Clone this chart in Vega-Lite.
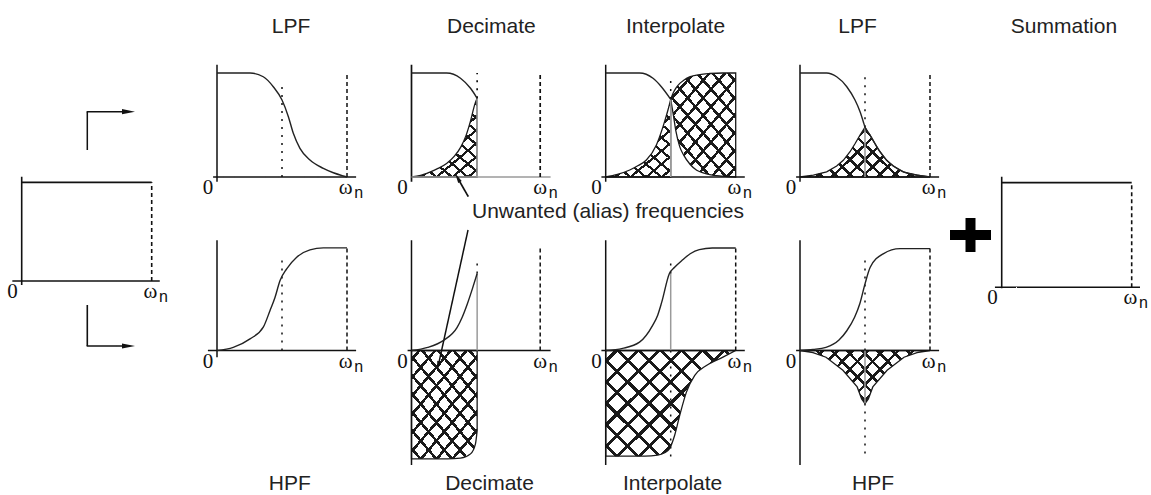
{
  "$schema": "https://vega.github.io/schema/vega-lite/v6.json",
  "padding": 0,
  "background": "white",
  "columns": 6,
  "spacing": 0,
  "bounds": "flush",
  "resolve": {"scale": {"x": "independent", "y": "independent"}},
  "config": {
    "view": {"stroke": null},
    "style": {
      "g1a": {"color": {"gradient": "linear", "x1": 0, "y1": 0, "x2": 0.8, "y2": 1.13, "stops": [
        {"offset": 0, "color": "transparent"},
        {"offset": 0.039, "color": "transparent"}, {"offset": 0.039, "color": "#1a1a1a"}, {"offset": 0.061, "color": "#1a1a1a"}, {"offset": 0.061, "color": "transparent"},
        {"offset": 0.139, "color": "transparent"}, {"offset": 0.139, "color": "#1a1a1a"}, {"offset": 0.161, "color": "#1a1a1a"}, {"offset": 0.161, "color": "transparent"},
        {"offset": 0.239, "color": "transparent"}, {"offset": 0.239, "color": "#1a1a1a"}, {"offset": 0.261, "color": "#1a1a1a"}, {"offset": 0.261, "color": "transparent"},
        {"offset": 0.339, "color": "transparent"}, {"offset": 0.339, "color": "#1a1a1a"}, {"offset": 0.361, "color": "#1a1a1a"}, {"offset": 0.361, "color": "transparent"},
        {"offset": 0.439, "color": "transparent"}, {"offset": 0.439, "color": "#1a1a1a"}, {"offset": 0.461, "color": "#1a1a1a"}, {"offset": 0.461, "color": "transparent"},
        {"offset": 0.539, "color": "transparent"}, {"offset": 0.539, "color": "#1a1a1a"}, {"offset": 0.561, "color": "#1a1a1a"}, {"offset": 0.561, "color": "transparent"},
        {"offset": 0.639, "color": "transparent"}, {"offset": 0.639, "color": "#1a1a1a"}, {"offset": 0.661, "color": "#1a1a1a"}, {"offset": 0.661, "color": "transparent"},
        {"offset": 0.739, "color": "transparent"}, {"offset": 0.739, "color": "#1a1a1a"}, {"offset": 0.761, "color": "#1a1a1a"}, {"offset": 0.761, "color": "transparent"},
        {"offset": 0.839, "color": "transparent"}, {"offset": 0.839, "color": "#1a1a1a"}, {"offset": 0.861, "color": "#1a1a1a"}, {"offset": 0.861, "color": "transparent"},
        {"offset": 0.939, "color": "transparent"}, {"offset": 0.939, "color": "#1a1a1a"}, {"offset": 0.961, "color": "#1a1a1a"}, {"offset": 0.961, "color": "transparent"},
        {"offset": 1, "color": "transparent"}]}},
      "g1b": {"color": {"gradient": "linear", "x1": 1, "y1": 0, "x2": 0.2, "y2": 1.13, "stops": [
        {"offset": 0, "color": "transparent"},
        {"offset": 0.039, "color": "transparent"}, {"offset": 0.039, "color": "#1a1a1a"}, {"offset": 0.061, "color": "#1a1a1a"}, {"offset": 0.061, "color": "transparent"},
        {"offset": 0.139, "color": "transparent"}, {"offset": 0.139, "color": "#1a1a1a"}, {"offset": 0.161, "color": "#1a1a1a"}, {"offset": 0.161, "color": "transparent"},
        {"offset": 0.239, "color": "transparent"}, {"offset": 0.239, "color": "#1a1a1a"}, {"offset": 0.261, "color": "#1a1a1a"}, {"offset": 0.261, "color": "transparent"},
        {"offset": 0.339, "color": "transparent"}, {"offset": 0.339, "color": "#1a1a1a"}, {"offset": 0.361, "color": "#1a1a1a"}, {"offset": 0.361, "color": "transparent"},
        {"offset": 0.439, "color": "transparent"}, {"offset": 0.439, "color": "#1a1a1a"}, {"offset": 0.461, "color": "#1a1a1a"}, {"offset": 0.461, "color": "transparent"},
        {"offset": 0.539, "color": "transparent"}, {"offset": 0.539, "color": "#1a1a1a"}, {"offset": 0.561, "color": "#1a1a1a"}, {"offset": 0.561, "color": "transparent"},
        {"offset": 0.639, "color": "transparent"}, {"offset": 0.639, "color": "#1a1a1a"}, {"offset": 0.661, "color": "#1a1a1a"}, {"offset": 0.661, "color": "transparent"},
        {"offset": 0.739, "color": "transparent"}, {"offset": 0.739, "color": "#1a1a1a"}, {"offset": 0.761, "color": "#1a1a1a"}, {"offset": 0.761, "color": "transparent"},
        {"offset": 0.839, "color": "transparent"}, {"offset": 0.839, "color": "#1a1a1a"}, {"offset": 0.861, "color": "#1a1a1a"}, {"offset": 0.861, "color": "transparent"},
        {"offset": 0.939, "color": "transparent"}, {"offset": 0.939, "color": "#1a1a1a"}, {"offset": 0.961, "color": "#1a1a1a"}, {"offset": 0.961, "color": "transparent"},
        {"offset": 1, "color": "transparent"}]}},
      "g2a": {"color": {"gradient": "linear", "x1": 0, "y1": 0, "x2": 1.09, "y2": 0.889, "stops": [
        {"offset": 0, "color": "transparent"},
        {"offset": 0.0365, "color": "transparent"}, {"offset": 0.0365, "color": "#1a1a1a"}, {"offset": 0.0545, "color": "#1a1a1a"}, {"offset": 0.0545, "color": "transparent"},
        {"offset": 0.1274, "color": "transparent"}, {"offset": 0.1274, "color": "#1a1a1a"}, {"offset": 0.1454, "color": "#1a1a1a"}, {"offset": 0.1454, "color": "transparent"},
        {"offset": 0.2183, "color": "transparent"}, {"offset": 0.2183, "color": "#1a1a1a"}, {"offset": 0.2363, "color": "#1a1a1a"}, {"offset": 0.2363, "color": "transparent"},
        {"offset": 0.3092, "color": "transparent"}, {"offset": 0.3092, "color": "#1a1a1a"}, {"offset": 0.3272, "color": "#1a1a1a"}, {"offset": 0.3272, "color": "transparent"},
        {"offset": 0.4001, "color": "transparent"}, {"offset": 0.4001, "color": "#1a1a1a"}, {"offset": 0.4181, "color": "#1a1a1a"}, {"offset": 0.4181, "color": "transparent"},
        {"offset": 0.491, "color": "transparent"}, {"offset": 0.491, "color": "#1a1a1a"}, {"offset": 0.509, "color": "#1a1a1a"}, {"offset": 0.509, "color": "transparent"},
        {"offset": 0.5819, "color": "transparent"}, {"offset": 0.5819, "color": "#1a1a1a"}, {"offset": 0.5999, "color": "#1a1a1a"}, {"offset": 0.5999, "color": "transparent"},
        {"offset": 0.6728, "color": "transparent"}, {"offset": 0.6728, "color": "#1a1a1a"}, {"offset": 0.6908, "color": "#1a1a1a"}, {"offset": 0.6908, "color": "transparent"},
        {"offset": 0.7637, "color": "transparent"}, {"offset": 0.7637, "color": "#1a1a1a"}, {"offset": 0.7817, "color": "#1a1a1a"}, {"offset": 0.7817, "color": "transparent"},
        {"offset": 0.8546, "color": "transparent"}, {"offset": 0.8546, "color": "#1a1a1a"}, {"offset": 0.8726, "color": "#1a1a1a"}, {"offset": 0.8726, "color": "transparent"},
        {"offset": 0.9456, "color": "transparent"}, {"offset": 0.9456, "color": "#1a1a1a"}, {"offset": 0.9636, "color": "#1a1a1a"}, {"offset": 0.9636, "color": "transparent"},
        {"offset": 1, "color": "transparent"}]}},
      "g2b": {"color": {"gradient": "linear", "x1": 1, "y1": 0, "x2": -0.09, "y2": 0.889, "stops": [
        {"offset": 0, "color": "transparent"},
        {"offset": 0.0365, "color": "transparent"}, {"offset": 0.0365, "color": "#1a1a1a"}, {"offset": 0.0545, "color": "#1a1a1a"}, {"offset": 0.0545, "color": "transparent"},
        {"offset": 0.1274, "color": "transparent"}, {"offset": 0.1274, "color": "#1a1a1a"}, {"offset": 0.1454, "color": "#1a1a1a"}, {"offset": 0.1454, "color": "transparent"},
        {"offset": 0.2183, "color": "transparent"}, {"offset": 0.2183, "color": "#1a1a1a"}, {"offset": 0.2363, "color": "#1a1a1a"}, {"offset": 0.2363, "color": "transparent"},
        {"offset": 0.3092, "color": "transparent"}, {"offset": 0.3092, "color": "#1a1a1a"}, {"offset": 0.3272, "color": "#1a1a1a"}, {"offset": 0.3272, "color": "transparent"},
        {"offset": 0.4001, "color": "transparent"}, {"offset": 0.4001, "color": "#1a1a1a"}, {"offset": 0.4181, "color": "#1a1a1a"}, {"offset": 0.4181, "color": "transparent"},
        {"offset": 0.491, "color": "transparent"}, {"offset": 0.491, "color": "#1a1a1a"}, {"offset": 0.509, "color": "#1a1a1a"}, {"offset": 0.509, "color": "transparent"},
        {"offset": 0.5819, "color": "transparent"}, {"offset": 0.5819, "color": "#1a1a1a"}, {"offset": 0.5999, "color": "#1a1a1a"}, {"offset": 0.5999, "color": "transparent"},
        {"offset": 0.6728, "color": "transparent"}, {"offset": 0.6728, "color": "#1a1a1a"}, {"offset": 0.6908, "color": "#1a1a1a"}, {"offset": 0.6908, "color": "transparent"},
        {"offset": 0.7637, "color": "transparent"}, {"offset": 0.7637, "color": "#1a1a1a"}, {"offset": 0.7817, "color": "#1a1a1a"}, {"offset": 0.7817, "color": "transparent"},
        {"offset": 0.8546, "color": "transparent"}, {"offset": 0.8546, "color": "#1a1a1a"}, {"offset": 0.8726, "color": "#1a1a1a"}, {"offset": 0.8726, "color": "transparent"},
        {"offset": 0.9456, "color": "transparent"}, {"offset": 0.9456, "color": "#1a1a1a"}, {"offset": 0.9636, "color": "#1a1a1a"}, {"offset": 0.9636, "color": "transparent"},
        {"offset": 1, "color": "transparent"}]}},
      "g3a": {"color": {"gradient": "linear", "x1": 0, "y1": 0, "x2": 1.207, "y2": 0.478, "stops": [
        {"offset": 0, "color": "transparent"},
        {"offset": 0.0317, "color": "transparent"}, {"offset": 0.0317, "color": "#1a1a1a"}, {"offset": 0.0517, "color": "#1a1a1a"}, {"offset": 0.0517, "color": "transparent"},
        {"offset": 0.115, "color": "transparent"}, {"offset": 0.115, "color": "#1a1a1a"}, {"offset": 0.135, "color": "#1a1a1a"}, {"offset": 0.135, "color": "transparent"},
        {"offset": 0.1983, "color": "transparent"}, {"offset": 0.1983, "color": "#1a1a1a"}, {"offset": 0.2183, "color": "#1a1a1a"}, {"offset": 0.2183, "color": "transparent"},
        {"offset": 0.2817, "color": "transparent"}, {"offset": 0.2817, "color": "#1a1a1a"}, {"offset": 0.3017, "color": "#1a1a1a"}, {"offset": 0.3017, "color": "transparent"},
        {"offset": 0.365, "color": "transparent"}, {"offset": 0.365, "color": "#1a1a1a"}, {"offset": 0.385, "color": "#1a1a1a"}, {"offset": 0.385, "color": "transparent"},
        {"offset": 0.4483, "color": "transparent"}, {"offset": 0.4483, "color": "#1a1a1a"}, {"offset": 0.4683, "color": "#1a1a1a"}, {"offset": 0.4683, "color": "transparent"},
        {"offset": 0.5317, "color": "transparent"}, {"offset": 0.5317, "color": "#1a1a1a"}, {"offset": 0.5517, "color": "#1a1a1a"}, {"offset": 0.5517, "color": "transparent"},
        {"offset": 0.615, "color": "transparent"}, {"offset": 0.615, "color": "#1a1a1a"}, {"offset": 0.635, "color": "#1a1a1a"}, {"offset": 0.635, "color": "transparent"},
        {"offset": 0.6983, "color": "transparent"}, {"offset": 0.6983, "color": "#1a1a1a"}, {"offset": 0.7183, "color": "#1a1a1a"}, {"offset": 0.7183, "color": "transparent"},
        {"offset": 0.7817, "color": "transparent"}, {"offset": 0.7817, "color": "#1a1a1a"}, {"offset": 0.8017, "color": "#1a1a1a"}, {"offset": 0.8017, "color": "transparent"},
        {"offset": 0.865, "color": "transparent"}, {"offset": 0.865, "color": "#1a1a1a"}, {"offset": 0.885, "color": "#1a1a1a"}, {"offset": 0.885, "color": "transparent"},
        {"offset": 0.9483, "color": "transparent"}, {"offset": 0.9483, "color": "#1a1a1a"}, {"offset": 0.9683, "color": "#1a1a1a"}, {"offset": 0.9683, "color": "transparent"},
        {"offset": 1, "color": "transparent"}]}},
      "g3b": {"color": {"gradient": "linear", "x1": 1, "y1": 0, "x2": -0.207, "y2": 0.478, "stops": [
        {"offset": 0, "color": "transparent"},
        {"offset": 0.0317, "color": "transparent"}, {"offset": 0.0317, "color": "#1a1a1a"}, {"offset": 0.0517, "color": "#1a1a1a"}, {"offset": 0.0517, "color": "transparent"},
        {"offset": 0.115, "color": "transparent"}, {"offset": 0.115, "color": "#1a1a1a"}, {"offset": 0.135, "color": "#1a1a1a"}, {"offset": 0.135, "color": "transparent"},
        {"offset": 0.1983, "color": "transparent"}, {"offset": 0.1983, "color": "#1a1a1a"}, {"offset": 0.2183, "color": "#1a1a1a"}, {"offset": 0.2183, "color": "transparent"},
        {"offset": 0.2817, "color": "transparent"}, {"offset": 0.2817, "color": "#1a1a1a"}, {"offset": 0.3017, "color": "#1a1a1a"}, {"offset": 0.3017, "color": "transparent"},
        {"offset": 0.365, "color": "transparent"}, {"offset": 0.365, "color": "#1a1a1a"}, {"offset": 0.385, "color": "#1a1a1a"}, {"offset": 0.385, "color": "transparent"},
        {"offset": 0.4483, "color": "transparent"}, {"offset": 0.4483, "color": "#1a1a1a"}, {"offset": 0.4683, "color": "#1a1a1a"}, {"offset": 0.4683, "color": "transparent"},
        {"offset": 0.5317, "color": "transparent"}, {"offset": 0.5317, "color": "#1a1a1a"}, {"offset": 0.5517, "color": "#1a1a1a"}, {"offset": 0.5517, "color": "transparent"},
        {"offset": 0.615, "color": "transparent"}, {"offset": 0.615, "color": "#1a1a1a"}, {"offset": 0.635, "color": "#1a1a1a"}, {"offset": 0.635, "color": "transparent"},
        {"offset": 0.6983, "color": "transparent"}, {"offset": 0.6983, "color": "#1a1a1a"}, {"offset": 0.7183, "color": "#1a1a1a"}, {"offset": 0.7183, "color": "transparent"},
        {"offset": 0.7817, "color": "transparent"}, {"offset": 0.7817, "color": "#1a1a1a"}, {"offset": 0.8017, "color": "#1a1a1a"}, {"offset": 0.8017, "color": "transparent"},
        {"offset": 0.865, "color": "transparent"}, {"offset": 0.865, "color": "#1a1a1a"}, {"offset": 0.885, "color": "#1a1a1a"}, {"offset": 0.885, "color": "transparent"},
        {"offset": 0.9483, "color": "transparent"}, {"offset": 0.9483, "color": "#1a1a1a"}, {"offset": 0.9683, "color": "#1a1a1a"}, {"offset": 0.9683, "color": "transparent"},
        {"offset": 1, "color": "transparent"}]}}
    }
  },
  "datasets": {
    "ticks": [{"lab": "0", "x": -0.07, "y": 0}, {"lab": "ω", "x": 0.99, "y": 0}],
    "sub": [{"lab": "n", "x": 1.09, "y": 0}],
    "h2t": [
      {"part": "a", "x": 0, "y": 0, "y2": 0}, {"part": "a", "x": 0.07, "y": 0.015, "y2": 0},
      {"part": "a", "x": 0.146, "y": 0.05, "y2": 0}, {"part": "a", "x": 0.2, "y": 0.08, "y2": 0},
      {"part": "a", "x": 0.27, "y": 0.13, "y2": 0}, {"part": "a", "x": 0.33, "y": 0.2, "y2": 0},
      {"part": "a", "x": 0.38, "y": 0.29, "y2": 0}, {"part": "a", "x": 0.42, "y": 0.4, "y2": 0},
      {"part": "a", "x": 0.45, "y": 0.52, "y2": 0}, {"part": "a", "x": 0.49, "y": 0.71, "y2": 0},
      {"part": "a", "x": 0.505, "y": 0.757, "y2": 0}
    ],
    "h3t": [
      {"part": "a", "x": 0, "y": 0, "y2": 0}, {"part": "a", "x": 0.09, "y": 0.025, "y2": 0},
      {"part": "a", "x": 0.185, "y": 0.067, "y2": 0}, {"part": "a", "x": 0.25, "y": 0.11, "y2": 0},
      {"part": "a", "x": 0.313, "y": 0.163, "y2": 0}, {"part": "a", "x": 0.39, "y": 0.308, "y2": 0},
      {"part": "a", "x": 0.441, "y": 0.484, "y2": 0}, {"part": "a", "x": 0.479, "y": 0.644, "y2": 0},
      {"part": "a", "x": 0.5, "y": 0.747, "y2": 0},
      {"part": "b", "x": 0.5, "y": 0.747, "y2": 0.747}, {"part": "b", "x": 0.52, "y": 0.81, "y2": 0.6},
      {"part": "b", "x": 0.54, "y": 0.855, "y2": 0.44}, {"part": "b", "x": 0.57, "y": 0.9, "y2": 0.29},
      {"part": "b", "x": 0.6, "y": 0.93, "y2": 0.21}, {"part": "b", "x": 0.65, "y": 0.965, "y2": 0.12},
      {"part": "b", "x": 0.7, "y": 0.98, "y2": 0.065}, {"part": "b", "x": 0.75, "y": 0.99, "y2": 0.04},
      {"part": "b", "x": 0.8, "y": 0.995, "y2": 0.022}, {"part": "b", "x": 0.9, "y": 1, "y2": 0.008},
      {"part": "b", "x": 1, "y": 1, "y2": 0}
    ],
    "h4t": [
      {"part": "a", "x": 0, "y": 0, "y2": 0}, {"part": "a", "x": 0.103, "y": 0.019, "y2": 0},
      {"part": "a", "x": 0.205, "y": 0.05, "y2": 0}, {"part": "a", "x": 0.282, "y": 0.106, "y2": 0},
      {"part": "a", "x": 0.333, "y": 0.16, "y2": 0}, {"part": "a", "x": 0.385, "y": 0.243, "y2": 0},
      {"part": "a", "x": 0.423, "y": 0.32, "y2": 0}, {"part": "a", "x": 0.462, "y": 0.404, "y2": 0},
      {"part": "a", "x": 0.5, "y": 0.478, "y2": 0}, {"part": "a", "x": 0.538, "y": 0.404, "y2": 0},
      {"part": "a", "x": 0.577, "y": 0.32, "y2": 0}, {"part": "a", "x": 0.615, "y": 0.243, "y2": 0},
      {"part": "a", "x": 0.667, "y": 0.16, "y2": 0}, {"part": "a", "x": 0.718, "y": 0.106, "y2": 0},
      {"part": "a", "x": 0.795, "y": 0.05, "y2": 0}, {"part": "a", "x": 0.897, "y": 0.019, "y2": 0},
      {"part": "a", "x": 1, "y": 0, "y2": 0}
    ],
    "h2b": [
      {"part": "a", "x": 0, "y": 0, "y2": -1.042}, {"part": "a", "x": 0.275, "y": 0, "y2": -1.042},
      {"part": "a", "x": 0.377, "y": 0, "y2": -1.035}, {"part": "a", "x": 0.454, "y": 0, "y2": -0.994},
      {"part": "a", "x": 0.492, "y": 0, "y2": -0.897}, {"part": "a", "x": 0.505, "y": 0, "y2": -0.77}
    ],
    "h3b": [
      {"part": "a", "x": 0, "y": 0, "y2": -1.016}, {"part": "a", "x": 0.3, "y": 0, "y2": -1.016},
      {"part": "a", "x": 0.4, "y": 0, "y2": -1.005}, {"part": "a", "x": 0.45, "y": 0, "y2": -0.985},
      {"part": "a", "x": 0.49, "y": 0, "y2": -0.946}, {"part": "a", "x": 0.53, "y": 0, "y2": -0.817},
      {"part": "a", "x": 0.569, "y": 0, "y2": -0.625}, {"part": "a", "x": 0.621, "y": 0, "y2": -0.4},
      {"part": "a", "x": 0.685, "y": 0, "y2": -0.24}, {"part": "a", "x": 0.775, "y": 0, "y2": -0.144},
      {"part": "a", "x": 0.902, "y": 0, "y2": -0.064}, {"part": "a", "x": 1, "y": 0, "y2": 0}
    ],
    "h4b": [
      {"part": "a", "x": 0, "y": 0, "y2": 0}, {"part": "a", "x": 0.1, "y": 0, "y2": -0.02},
      {"part": "a", "x": 0.2, "y": 0, "y2": -0.065}, {"part": "a", "x": 0.33, "y": 0, "y2": -0.19},
      {"part": "a", "x": 0.44, "y": 0, "y2": -0.35}, {"part": "a", "x": 0.474, "y": 0, "y2": -0.465},
      {"part": "a", "x": 0.5, "y": 0, "y2": -0.51}, {"part": "a", "x": 0.526, "y": 0, "y2": -0.465},
      {"part": "a", "x": 0.56, "y": 0, "y2": -0.35}, {"part": "a", "x": 0.67, "y": 0, "y2": -0.19},
      {"part": "a", "x": 0.8, "y": 0, "y2": -0.065}, {"part": "a", "x": 0.9, "y": 0, "y2": -0.02},
      {"part": "a", "x": 1, "y": 0, "y2": 0}
    ]
  },
  "concat": [
    {
      "width": 177, "height": 222,
      "encoding": {
        "x": {"field": "x", "type": "quantitative", "scale": {"domain": [-0.1669, 1.1946], "nice": false, "zero": false}, "axis": null},
        "y": {"field": "y", "type": "quantitative", "stack": null, "scale": {"domain": [0.5978, 2.847], "nice": false, "zero": false}, "axis": null}
      },
      "layer": [
        {"data": {"values": [
          {"kind": "axis", "x": 0.5046, "y": 1.3273, "x2": 0.5046, "y2": 1.7153},
          {"kind": "axis", "x": 0.4996, "y": 1.7153, "x2": 0.81, "y2": 1.7153}]},
         "mark": {"type": "rule", "strokeWidth": 1.5},
         "encoding": {"x2": {"field": "x2"}, "y2": {"field": "y2"},
           "color": {"field": "kind", "type": "nominal", "scale": {"domain": ["axis", "gray", "mid", "edge"], "range": ["#111111", "#9a9a9a", "#111111", "#111111"]}, "legend": null},
           "strokeDash": {"field": "kind", "type": "nominal", "scale": {"domain": ["axis", "gray", "mid", "edge"], "range": [[1, 0], [1, 0], [2, 6], [4, 3]]}, "legend": null}}},
        {"data": {"values": [{"x": 0.8215, "y": 1.7153}]},
         "mark": {"type": "point", "shape": "M1,0L-1,-0.4L-1,0.4Z", "filled": true, "color": "#111111", "opacity": 1, "size": 169}}
      ]
    },
    {
      "width": 194, "height": 222,
      "encoding": {
        "x": {"field": "x", "type": "quantitative", "scale": {"domain": [-0.3077, 1.1846], "nice": false, "zero": false}, "axis": null},
        "y": {"field": "y", "type": "quantitative", "stack": null, "scale": {"domain": [-0.4327, 1.7019], "nice": false, "zero": false}, "axis": null}
      },
      "layer": [
        {"data": {"values": [
          {"kind": "axis", "x": 0, "y": -0.045, "x2": 0, "y2": 1.08},
          {"kind": "axis", "x": -0.03, "y": 0, "x2": 1.07, "y2": 0},
          {"kind": "mid", "x": 0.5, "y": 0, "x2": 0.5, "y2": 0.885},
          {"kind": "edge", "x": 1, "y": 0, "x2": 1, "y2": 1.01}]},
         "mark": {"type": "rule", "strokeWidth": 1.5},
         "encoding": {"x2": {"field": "x2"}, "y2": {"field": "y2"},
           "color": {"field": "kind", "type": "nominal", "scale": {"domain": ["axis", "gray", "mid", "edge"], "range": ["#111111", "#9a9a9a", "#111111", "#111111"]}, "legend": null},
           "strokeDash": {"field": "kind", "type": "nominal", "scale": {"domain": ["axis", "gray", "mid", "edge"], "range": [[1, 0], [1, 0], [2, 6], [4, 3]]}, "legend": null}}},
        {"data": {"values": [
          {"x": 0, "y": 1}, {"x": 0.254, "y": 1}, {"x": 0.356, "y": 0.964}, {"x": 0.433, "y": 0.868},
          {"x": 0.5, "y": 0.74}, {"x": 0.549, "y": 0.58}, {"x": 0.587, "y": 0.42}, {"x": 0.638, "y": 0.276},
          {"x": 0.715, "y": 0.163}, {"x": 0.818, "y": 0.083}, {"x": 0.895, "y": 0.041}, {"x": 0.972, "y": 0.01}, {"x": 1, "y": 0}]},
         "mark": {"type": "line", "interpolate": "monotone", "color": "#222222", "strokeWidth": 1.4}},
        {"data": {"values": [{"t": "LPF", "x": 0.569, "y": 1.382}]},
         "mark": {"type": "text", "font": "Liberation Sans", "fontSize": 21, "color": "#222222", "baseline": "alphabetic"}, "encoding": {"text": {"field": "t"}}},
        {"data": {"name": "ticks"}, "mark": {"type": "text", "font": "Liberation Serif", "fontSize": 21, "color": "#111111", "baseline": "alphabetic", "dy": 17}, "encoding": {"text": {"field": "lab"}}},
        {"data": {"name": "sub"}, "mark": {"type": "text", "font": "Liberation Sans", "fontSize": 16, "color": "#111111", "baseline": "alphabetic", "dy": 21}, "encoding": {"text": {"field": "lab"}}}
      ]
    },
    {
      "width": 195, "height": 222,
      "encoding": {
        "x": {"field": "x", "type": "quantitative", "scale": {"domain": [-0.3115, 1.1885], "nice": false, "zero": false}, "axis": null},
        "y": {"field": "y", "type": "quantitative", "stack": null, "scale": {"domain": [-0.4327, 1.7019], "nice": false, "zero": false}, "axis": null}
      },
      "layer": [
        {"data": {"name": "h2t"}, "mark": {"type": "area", "style": "g1a", "interpolate": "monotone"}, "encoding": {"y2": {"field": "y2"}, "detail": {"field": "part"}}},
        {"data": {"name": "h2t"}, "mark": {"type": "area", "style": "g1b", "interpolate": "monotone", "stroke": "#1a1a1a", "strokeWidth": 1.3}, "encoding": {"y2": {"field": "y2"}, "detail": {"field": "part"}}},
        {"data": {"values": [
          {"kind": "axis", "x": 0, "y": -0.045, "x2": 0, "y2": 1.08},
          {"kind": "gray", "x": 0, "y": 0, "x2": 1.07, "y2": 0},
          {"kind": "gray", "x": 0.505, "y": 0, "x2": 0.505, "y2": 0.757},
          {"kind": "mid", "x": 0.505, "y": 0.757, "x2": 0.505, "y2": 1.0},
          {"kind": "edge", "x": 0.99, "y": 0, "x2": 0.99, "y2": 1.0},
          {"kind": "axis", "x": 0.437, "y": -0.189, "x2": 0.354, "y2": -0.007}]},
         "mark": {"type": "rule", "strokeWidth": 1.7},
         "encoding": {"x2": {"field": "x2"}, "y2": {"field": "y2"},
           "color": {"field": "kind", "type": "nominal", "scale": {"domain": ["axis", "gray", "mid", "edge"], "range": ["#111111", "#9a9a9a", "#111111", "#111111"]}, "legend": null},
           "strokeDash": {"field": "kind", "type": "nominal", "scale": {"domain": ["axis", "gray", "mid", "edge"], "range": [[1, 0], [1, 0], [2, 6], [4, 3]]}, "legend": null}}},
        {"data": {"values": [
          {"x": 0, "y": 1}, {"x": 0.27, "y": 1}, {"x": 0.377, "y": 0.95}, {"x": 0.454, "y": 0.853}, {"x": 0.505, "y": 0.757}]},
         "mark": {"type": "line", "interpolate": "monotone", "color": "#222222", "strokeWidth": 1.4}},
        {"data": {"values": [{"x": 0.354, "y": -0.007}]},
         "mark": {"type": "point", "shape": "M1,0L-1,-0.4L-1,0.4Z", "filled": true, "color": "#111111", "opacity": 1, "size": 100, "angle": 240.6}},
        {"data": {"values": [{"t": "Decimate", "x": 0.614, "y": 1.382}, {"t": "Unwanted (alias) frequencies", "x": 1.5115, "y": -0.394}]},
         "mark": {"type": "text", "font": "Liberation Sans", "fontSize": 21, "color": "#222222", "baseline": "alphabetic"}, "encoding": {"text": {"field": "t"}}},
        {"data": {"name": "ticks"}, "mark": {"type": "text", "font": "Liberation Serif", "fontSize": 21, "color": "#111111", "baseline": "alphabetic", "dy": 17}, "encoding": {"text": {"field": "lab"}}},
        {"data": {"name": "sub"}, "mark": {"type": "text", "font": "Liberation Sans", "fontSize": 16, "color": "#111111", "baseline": "alphabetic", "dy": 21}, "encoding": {"text": {"field": "lab"}}}
      ]
    },
    {
      "width": 194, "height": 222,
      "encoding": {
        "x": {"field": "x", "type": "quantitative", "scale": {"domain": [-0.3054, 1.1869], "nice": false, "zero": false}, "axis": null},
        "y": {"field": "y", "type": "quantitative", "stack": null, "scale": {"domain": [-0.4327, 1.7019], "nice": false, "zero": false}, "axis": null}
      },
      "layer": [
        {"data": {"name": "h3t"}, "mark": {"type": "area", "style": "g1a", "interpolate": "monotone"}, "encoding": {"y2": {"field": "y2"}, "detail": {"field": "part"}}},
        {"data": {"name": "h3t"}, "mark": {"type": "area", "style": "g1b", "interpolate": "monotone", "stroke": "#1a1a1a", "strokeWidth": 1.3}, "encoding": {"y2": {"field": "y2"}, "detail": {"field": "part"}}},
        {"data": {"values": [
          {"kind": "axis", "x": 0, "y": -0.045, "x2": 0, "y2": 1.08},
          {"kind": "axis", "x": -0.033, "y": 0, "x2": 1.07, "y2": 0},
          {"kind": "gray", "x": 0.5, "y": 0, "x2": 0.5, "y2": 0.747},
          {"kind": "mid", "x": 0.5, "y": 0.75, "x2": 0.5, "y2": 0.98}]},
         "mark": {"type": "rule", "strokeWidth": 1.5},
         "encoding": {"x2": {"field": "x2"}, "y2": {"field": "y2"},
           "color": {"field": "kind", "type": "nominal", "scale": {"domain": ["axis", "gray", "mid", "edge"], "range": ["#111111", "#9a9a9a", "#111111", "#111111"]}, "legend": null},
           "strokeDash": {"field": "kind", "type": "nominal", "scale": {"domain": ["axis", "gray", "mid", "edge"], "range": [[1, 0], [1, 0], [2, 6], [4, 3]]}, "legend": null}}},
        {"data": {"values": [
          {"x": 0, "y": 1}, {"x": 0.26, "y": 1}, {"x": 0.364, "y": 0.949}, {"x": 0.428, "y": 0.868}, {"x": 0.5, "y": 0.747}]},
         "mark": {"type": "line", "interpolate": "monotone", "color": "#222222", "strokeWidth": 1.4}},
        {"data": {"values": [{"t": "Interpolate", "x": 0.537, "y": 1.382}]},
         "mark": {"type": "text", "font": "Liberation Sans", "fontSize": 21, "color": "#222222", "baseline": "alphabetic"}, "encoding": {"text": {"field": "t"}}},
        {"data": {"name": "ticks"}, "mark": {"type": "text", "font": "Liberation Serif", "fontSize": 21, "color": "#111111", "baseline": "alphabetic", "dy": 17}, "encoding": {"text": {"field": "lab"}}},
        {"data": {"name": "sub"}, "mark": {"type": "text", "font": "Liberation Sans", "fontSize": 16, "color": "#111111", "baseline": "alphabetic", "dy": 21}, "encoding": {"text": {"field": "lab"}}}
      ]
    },
    {
      "width": 185, "height": 222,
      "encoding": {
        "x": {"field": "x", "type": "quantitative", "scale": {"domain": [-0.3077, 1.1154], "nice": false, "zero": false}, "axis": null},
        "y": {"field": "y", "type": "quantitative", "stack": null, "scale": {"domain": [-0.4327, 1.7019], "nice": false, "zero": false}, "axis": null}
      },
      "layer": [
        {"data": {"name": "h4t"}, "mark": {"type": "area", "style": "g3a", "interpolate": "linear"}, "encoding": {"y2": {"field": "y2"}, "detail": {"field": "part"}}},
        {"data": {"name": "h4t"}, "mark": {"type": "area", "style": "g3b", "interpolate": "linear", "stroke": "#1a1a1a", "strokeWidth": 1.3}, "encoding": {"y2": {"field": "y2"}, "detail": {"field": "part"}}},
        {"data": {"values": [
          {"kind": "axis", "x": 0, "y": -0.045, "x2": 0, "y2": 1.08},
          {"kind": "axis", "x": -0.03, "y": 0, "x2": 1.07, "y2": 0},
          {"kind": "gray", "x": 0.5, "y": 0, "x2": 0.5, "y2": 0.478},
          {"kind": "mid", "x": 0.5, "y": 0.478, "x2": 0.5, "y2": 1.0},
          {"kind": "edge", "x": 1, "y": 0, "x2": 1, "y2": 1.0}]},
         "mark": {"type": "rule", "strokeWidth": 1.5},
         "encoding": {"x2": {"field": "x2"}, "y2": {"field": "y2"},
           "color": {"field": "kind", "type": "nominal", "scale": {"domain": ["axis", "gray", "mid", "edge"], "range": ["#111111", "#9a9a9a", "#111111", "#111111"]}, "legend": null},
           "strokeDash": {"field": "kind", "type": "nominal", "scale": {"domain": ["axis", "gray", "mid", "edge"], "range": [[1, 0], [1, 0], [2, 6], [4, 3]]}, "legend": null}}},
        {"data": {"values": [
          {"x": 0, "y": 1}, {"x": 0.205, "y": 1}, {"x": 0.282, "y": 0.964}, {"x": 0.36, "y": 0.868},
          {"x": 0.423, "y": 0.74}, {"x": 0.462, "y": 0.628}, {"x": 0.487, "y": 0.532}, {"x": 0.5, "y": 0.478},
          {"x": 0.538, "y": 0.404}, {"x": 0.577, "y": 0.32}, {"x": 0.615, "y": 0.243}, {"x": 0.667, "y": 0.16},
          {"x": 0.718, "y": 0.106}, {"x": 0.795, "y": 0.05}, {"x": 0.897, "y": 0.019}, {"x": 1, "y": 0}]},
         "mark": {"type": "line", "interpolate": "monotone", "color": "#222222", "strokeWidth": 1.4}},
        {"data": {"values": [{"t": "LPF", "x": 0.442, "y": 1.382}]},
         "mark": {"type": "text", "font": "Liberation Sans", "fontSize": 21, "color": "#222222", "baseline": "alphabetic"}, "encoding": {"text": {"field": "t"}}},
        {"data": {"name": "ticks"}, "mark": {"type": "text", "font": "Liberation Serif", "fontSize": 21, "color": "#111111", "baseline": "alphabetic", "dy": 17}, "encoding": {"text": {"field": "lab"}}},
        {"data": {"name": "sub"}, "mark": {"type": "text", "font": "Liberation Sans", "fontSize": 16, "color": "#111111", "baseline": "alphabetic", "dy": 21}, "encoding": {"text": {"field": "lab"}}}
      ]
    },
    {
      "width": 206, "height": 222,
      "encoding": {
        "x": {"field": "x", "type": "quantitative", "scale": {"domain": [-0.4362, 1.1485], "nice": false, "zero": false}, "axis": null},
        "y": {"field": "y", "type": "quantitative", "stack": null, "scale": {"domain": [0.6243, 2.7467], "nice": false, "zero": false}, "axis": null}
      },
      "layer": [
        {"data": {"values": [{"t": "Summation", "x": 0.479, "y": 2.428}]},
         "mark": {"type": "text", "font": "Liberation Sans", "fontSize": 21, "color": "#222222", "baseline": "alphabetic"}, "encoding": {"text": {"field": "t"}}}
      ]
    },
    {
      "width": 177, "height": 273,
      "encoding": {
        "x": {"field": "x", "type": "quantitative", "scale": {"domain": [-0.1669, 1.1946], "nice": false, "zero": false}, "axis": null},
        "y": {"field": "y", "type": "quantitative", "stack": null, "scale": {"domain": [-2.1682, 0.5978], "nice": false, "zero": false}, "axis": null}
      },
      "layer": [
        {"data": {"values": [
          {"kind": "axis", "x": 0, "y": -0.04, "x2": 0, "y2": 1.057},
          {"kind": "axis", "x": -0.072, "y": 0, "x2": 1.062, "y2": 0},
          {"kind": "edge", "x": 1, "y": 0, "x2": 1, "y2": 1},
          {"kind": "axis", "x": 0.5046, "y": -0.2432, "x2": 0.5046, "y2": -0.6586},
          {"kind": "axis", "x": 0.4996, "y": -0.6586, "x2": 0.81, "y2": -0.6586}]},
         "mark": {"type": "rule", "strokeWidth": 1.6},
         "encoding": {"x2": {"field": "x2"}, "y2": {"field": "y2"},
           "color": {"field": "kind", "type": "nominal", "scale": {"domain": ["axis", "gray", "mid", "edge"], "range": ["#111111", "#9a9a9a", "#111111", "#111111"]}, "legend": null},
           "strokeDash": {"field": "kind", "type": "nominal", "scale": {"domain": ["axis", "gray", "mid", "edge"], "range": [[1, 0], [1, 0], [2, 6], [4, 3]]}, "legend": null}}},
        {"data": {"values": [{"x": 0, "y": 1}, {"x": 1, "y": 1}]},
         "mark": {"type": "line", "color": "#111111", "strokeWidth": 1.7}},
        {"data": {"values": [{"x": 0.8215, "y": -0.6586}]},
         "mark": {"type": "point", "shape": "M1,0L-1,-0.4L-1,0.4Z", "filled": true, "color": "#111111", "opacity": 1, "size": 169}},
        {"data": {"name": "ticks"}, "mark": {"type": "text", "font": "Liberation Serif", "fontSize": 21, "color": "#111111", "baseline": "alphabetic", "dy": 17}, "encoding": {"text": {"field": "lab"}}},
        {"data": {"name": "sub"}, "mark": {"type": "text", "font": "Liberation Sans", "fontSize": 16, "color": "#111111", "baseline": "alphabetic", "dy": 21}, "encoding": {"text": {"field": "lab"}}}
      ]
    },
    {
      "width": 194, "height": 273,
      "encoding": {
        "x": {"field": "x", "type": "quantitative", "scale": {"domain": [-0.3077, 1.1846], "nice": false, "zero": false}, "axis": null},
        "y": {"field": "y", "type": "quantitative", "stack": null, "scale": {"domain": [-1.3894, 1.2356], "nice": false, "zero": false}, "axis": null}
      },
      "layer": [
        {"data": {"values": [
          {"kind": "axis", "x": 0, "y": -0.065, "x2": 0, "y2": 1.06},
          {"kind": "axis", "x": -0.07, "y": 0, "x2": 1.07, "y2": 0},
          {"kind": "mid", "x": 0.5, "y": 0, "x2": 0.5, "y2": 0.88},
          {"kind": "edge", "x": 1, "y": 0, "x2": 1, "y2": 0.987}]},
         "mark": {"type": "rule", "strokeWidth": 1.5},
         "encoding": {"x2": {"field": "x2"}, "y2": {"field": "y2"},
           "color": {"field": "kind", "type": "nominal", "scale": {"domain": ["axis", "gray", "mid", "edge"], "range": ["#111111", "#9a9a9a", "#111111", "#111111"]}, "legend": null},
           "strokeDash": {"field": "kind", "type": "nominal", "scale": {"domain": ["axis", "gray", "mid", "edge"], "range": [[1, 0], [1, 0], [2, 6], [4, 3]]}, "legend": null}}},
        {"data": {"values": [
          {"x": 0, "y": 0}, {"x": 0.125, "y": 0.03}, {"x": 0.254, "y": 0.112}, {"x": 0.356, "y": 0.224},
          {"x": 0.408, "y": 0.385}, {"x": 0.446, "y": 0.51}, {"x": 0.485, "y": 0.673}, {"x": 0.536, "y": 0.785},
          {"x": 0.613, "y": 0.897}, {"x": 0.715, "y": 0.968}, {"x": 0.818, "y": 0.987}, {"x": 1, "y": 0.987}]},
         "mark": {"type": "line", "interpolate": "monotone", "color": "#222222", "strokeWidth": 1.4}},
        {"data": {"values": [{"t": "HPF", "x": 0.56, "y": -1.341}]},
         "mark": {"type": "text", "font": "Liberation Sans", "fontSize": 21, "color": "#222222", "baseline": "alphabetic"}, "encoding": {"text": {"field": "t"}}},
        {"data": {"name": "ticks"}, "mark": {"type": "text", "font": "Liberation Serif", "fontSize": 21, "color": "#111111", "baseline": "alphabetic", "dy": 17}, "encoding": {"text": {"field": "lab"}}},
        {"data": {"name": "sub"}, "mark": {"type": "text", "font": "Liberation Sans", "fontSize": 16, "color": "#111111", "baseline": "alphabetic", "dy": 21}, "encoding": {"text": {"field": "lab"}}}
      ]
    },
    {
      "width": 195, "height": 273,
      "encoding": {
        "x": {"field": "x", "type": "quantitative", "scale": {"domain": [-0.3115, 1.1885], "nice": false, "zero": false}, "axis": null},
        "y": {"field": "y", "type": "quantitative", "stack": null, "scale": {"domain": [-1.3894, 1.2356], "nice": false, "zero": false}, "axis": null}
      },
      "layer": [
        {"data": {"name": "h2b"}, "mark": {"type": "area", "style": "g1a", "interpolate": "monotone"}, "encoding": {"y2": {"field": "y2"}, "detail": {"field": "part"}}},
        {"data": {"name": "h2b"}, "mark": {"type": "area", "style": "g1b", "interpolate": "monotone", "stroke": "#1a1a1a", "strokeWidth": 1.3}, "encoding": {"y2": {"field": "y2"}, "detail": {"field": "part"}}},
        {"data": {"values": [
          {"kind": "axis", "x": 0, "y": -1.1, "x2": 0, "y2": 1.06},
          {"kind": "axis", "x": -0.03, "y": 0, "x2": 1.07, "y2": 0},
          {"kind": "gray", "x": 0.505, "y": 0, "x2": 0.505, "y2": 0.74},
          {"kind": "mid", "x": 0.505, "y": 0.74, "x2": 0.505, "y2": 0.87},
          {"kind": "edge", "x": 0.99, "y": 0, "x2": 0.99, "y2": 0.99},
          {"kind": "axis", "x": 0.435, "y": 1.159, "x2": 0.205, "y2": -0.15}]},
         "mark": {"type": "rule", "strokeWidth": 1.5},
         "encoding": {"x2": {"field": "x2"}, "y2": {"field": "y2"},
           "color": {"field": "kind", "type": "nominal", "scale": {"domain": ["axis", "gray", "mid", "edge"], "range": ["#111111", "#9a9a9a", "#111111", "#111111"]}, "legend": null},
           "strokeDash": {"field": "kind", "type": "nominal", "scale": {"domain": ["axis", "gray", "mid", "edge"], "range": [[1, 0], [1, 0], [2, 6], [4, 3]]}, "legend": null}}},
        {"data": {"values": [
          {"x": 0, "y": 0}, {"x": 0.125, "y": 0.03}, {"x": 0.25, "y": 0.1}, {"x": 0.35, "y": 0.22},
          {"x": 0.39, "y": 0.32}, {"x": 0.43, "y": 0.45}, {"x": 0.47, "y": 0.6}, {"x": 0.505, "y": 0.74}]},
         "mark": {"type": "line", "interpolate": "monotone", "color": "#222222", "strokeWidth": 1.4}},
        {"data": {"values": [{"x": 0.205, "y": -0.15}]},
         "mark": {"type": "point", "shape": "M1,0L-1,-0.4L-1,0.4Z", "filled": true, "color": "#111111", "opacity": 1, "size": 100, "angle": 102.4}},
        {"data": {"values": [{"t": "Decimate", "x": 0.6, "y": -1.341}]},
         "mark": {"type": "text", "font": "Liberation Sans", "fontSize": 21, "color": "#222222", "baseline": "alphabetic"}, "encoding": {"text": {"field": "t"}}},
        {"data": {"name": "ticks"}, "mark": {"type": "text", "font": "Liberation Serif", "fontSize": 21, "color": "#111111", "baseline": "alphabetic", "dy": 17}, "encoding": {"text": {"field": "lab"}}},
        {"data": {"name": "sub"}, "mark": {"type": "text", "font": "Liberation Sans", "fontSize": 16, "color": "#111111", "baseline": "alphabetic", "dy": 21}, "encoding": {"text": {"field": "lab"}}}
      ]
    },
    {
      "width": 194, "height": 273,
      "encoding": {
        "x": {"field": "x", "type": "quantitative", "scale": {"domain": [-0.3054, 1.1869], "nice": false, "zero": false}, "axis": null},
        "y": {"field": "y", "type": "quantitative", "stack": null, "scale": {"domain": [-1.3894, 1.2356], "nice": false, "zero": false}, "axis": null}
      },
      "layer": [
        {"data": {"name": "h3b"}, "mark": {"type": "area", "style": "g2a", "interpolate": "monotone"}, "encoding": {"y2": {"field": "y2"}, "detail": {"field": "part"}}},
        {"data": {"name": "h3b"}, "mark": {"type": "area", "style": "g2b", "interpolate": "monotone", "stroke": "#1a1a1a", "strokeWidth": 1.3}, "encoding": {"y2": {"field": "y2"}, "detail": {"field": "part"}}},
        {"data": {"values": [
          {"kind": "axis", "x": 0, "y": -1.1, "x2": 0, "y2": 1.06},
          {"kind": "axis", "x": -0.033, "y": 0, "x2": 1.07, "y2": 0},
          {"kind": "gray", "x": 0.5, "y": 0, "x2": 0.5, "y2": 0.74},
          {"kind": "mid", "x": 0.5, "y": 0.74, "x2": 0.5, "y2": 0.88},
          {"kind": "mid", "x": 0.5, "y": 0, "x2": 0.5, "y2": -1.026},
          {"kind": "edge", "x": 1, "y": 0, "x2": 1, "y2": 0.985}]},
         "mark": {"type": "rule", "strokeWidth": 1.5},
         "encoding": {"x2": {"field": "x2"}, "y2": {"field": "y2"},
           "color": {"field": "kind", "type": "nominal", "scale": {"domain": ["axis", "gray", "mid", "edge"], "range": ["#111111", "#9a9a9a", "#111111", "#111111"]}, "legend": null},
           "strokeDash": {"field": "kind", "type": "nominal", "scale": {"domain": ["axis", "gray", "mid", "edge"], "range": [[1, 0], [1, 0], [2, 6], [4, 3]]}, "legend": null}}},
        {"data": {"values": [
          {"x": 0, "y": 0}, {"x": 0.13, "y": 0.02}, {"x": 0.26, "y": 0.08}, {"x": 0.36, "y": 0.24},
          {"x": 0.4, "y": 0.34}, {"x": 0.43, "y": 0.46}, {"x": 0.49, "y": 0.74}, {"x": 0.53, "y": 0.8},
          {"x": 0.59, "y": 0.87}, {"x": 0.65, "y": 0.93}, {"x": 0.72, "y": 0.97}, {"x": 0.82, "y": 0.985}, {"x": 1, "y": 0.985}]},
         "mark": {"type": "line", "interpolate": "monotone", "color": "#222222", "strokeWidth": 1.4}},
        {"data": {"values": [{"t": "Interpolate", "x": 0.515, "y": -1.341}]},
         "mark": {"type": "text", "font": "Liberation Sans", "fontSize": 21, "color": "#222222", "baseline": "alphabetic"}, "encoding": {"text": {"field": "t"}}},
        {"data": {"name": "ticks"}, "mark": {"type": "text", "font": "Liberation Serif", "fontSize": 21, "color": "#111111", "baseline": "alphabetic", "dy": 17}, "encoding": {"text": {"field": "lab"}}},
        {"data": {"name": "sub"}, "mark": {"type": "text", "font": "Liberation Sans", "fontSize": 16, "color": "#111111", "baseline": "alphabetic", "dy": 21}, "encoding": {"text": {"field": "lab"}}}
      ]
    },
    {
      "width": 185, "height": 273,
      "encoding": {
        "x": {"field": "x", "type": "quantitative", "scale": {"domain": [-0.3077, 1.1154], "nice": false, "zero": false}, "axis": null},
        "y": {"field": "y", "type": "quantitative", "stack": null, "scale": {"domain": [-1.3894, 1.2356], "nice": false, "zero": false}, "axis": null}
      },
      "layer": [
        {"data": {"name": "h4b"}, "mark": {"type": "area", "style": "g3a", "interpolate": "linear"}, "encoding": {"y2": {"field": "y2"}, "detail": {"field": "part"}}},
        {"data": {"name": "h4b"}, "mark": {"type": "area", "style": "g3b", "interpolate": "linear", "stroke": "#1a1a1a", "strokeWidth": 1.3}, "encoding": {"y2": {"field": "y2"}, "detail": {"field": "part"}}},
        {"data": {"values": [
          {"kind": "axis", "x": 0, "y": -1.1, "x2": 0, "y2": 1.06},
          {"kind": "axis", "x": -0.03, "y": 0, "x2": 1.07, "y2": 0},
          {"kind": "gray", "x": 0.5, "y": 0, "x2": 0.5, "y2": -0.51},
          {"kind": "mid", "x": 0.5, "y": 0, "x2": 0.5, "y2": 0.88},
          {"kind": "mid", "x": 0.5, "y": -0.51, "x2": 0.5, "y2": -1.026},
          {"kind": "edge", "x": 1, "y": 0, "x2": 1, "y2": 0.98}]},
         "mark": {"type": "rule", "strokeWidth": 1.5},
         "encoding": {"x2": {"field": "x2"}, "y2": {"field": "y2"},
           "color": {"field": "kind", "type": "nominal", "scale": {"domain": ["axis", "gray", "mid", "edge"], "range": ["#111111", "#9a9a9a", "#111111", "#111111"]}, "legend": null},
           "strokeDash": {"field": "kind", "type": "nominal", "scale": {"domain": ["axis", "gray", "mid", "edge"], "range": [[1, 0], [1, 0], [2, 6], [4, 3]]}, "legend": null}}},
        {"data": {"values": [
          {"x": 0, "y": 0}, {"x": 0.1, "y": 0.01}, {"x": 0.2, "y": 0.03}, {"x": 0.3, "y": 0.1},
          {"x": 0.36, "y": 0.19}, {"x": 0.42, "y": 0.32}, {"x": 0.46, "y": 0.45}, {"x": 0.5, "y": 0.64},
          {"x": 0.54, "y": 0.8}, {"x": 0.64, "y": 0.93}, {"x": 0.77, "y": 0.98}, {"x": 1, "y": 0.98}]},
         "mark": {"type": "line", "interpolate": "monotone", "color": "#222222", "strokeWidth": 1.4}},
        {"data": {"values": [{"t": "HPF", "x": 0.562, "y": -1.341}]},
         "mark": {"type": "text", "font": "Liberation Sans", "fontSize": 21, "color": "#222222", "baseline": "alphabetic"}, "encoding": {"text": {"field": "t"}}},
        {"data": {"name": "ticks"}, "mark": {"type": "text", "font": "Liberation Serif", "fontSize": 21, "color": "#111111", "baseline": "alphabetic", "dy": 17}, "encoding": {"text": {"field": "lab"}}},
        {"data": {"name": "sub"}, "mark": {"type": "text", "font": "Liberation Sans", "fontSize": 16, "color": "#111111", "baseline": "alphabetic", "dy": 21}, "encoding": {"text": {"field": "lab"}}}
      ]
    },
    {
      "width": 206, "height": 273,
      "encoding": {
        "x": {"field": "x", "type": "quantitative", "scale": {"domain": [-0.4362, 1.1485], "nice": false, "zero": false}, "axis": null},
        "y": {"field": "y", "type": "quantitative", "stack": null, "scale": {"domain": [-1.9857, 0.6243], "nice": false, "zero": false}, "axis": null}
      },
      "layer": [
        {"data": {"values": [
          {"kind": "axis", "x": 0, "y": -0.01, "x2": 0, "y2": 1.057},
          {"kind": "axis", "x": -0.052, "y": 0, "x2": 1.064, "y2": 0},
          {"kind": "edge", "x": 1, "y": 0, "x2": 1, "y2": 1}]},
         "mark": {"type": "rule", "strokeWidth": 1.6},
         "encoding": {"x2": {"field": "x2"}, "y2": {"field": "y2"},
           "color": {"field": "kind", "type": "nominal", "scale": {"domain": ["axis", "gray", "mid", "edge"], "range": ["#111111", "#9a9a9a", "#111111", "#111111"]}, "legend": null},
           "strokeDash": {"field": "kind", "type": "nominal", "scale": {"domain": ["axis", "gray", "mid", "edge"], "range": [[1, 0], [1, 0], [2, 6], [4, 3]]}, "legend": null}}},
        {"data": {"values": [
          {"x": -0.3977, "y": 0.5, "x2": -0.0823, "y2": 0.5},
          {"x": -0.24, "y": 0.3375, "x2": -0.24, "y2": 0.6625}]},
         "mark": {"type": "rule", "strokeWidth": 10, "color": "#000000"},
         "encoding": {"x2": {"field": "x2"}, "y2": {"field": "y2"}}},
        {"data": {"values": [{"x": 0, "y": 1}, {"x": 1, "y": 1}]},
         "mark": {"type": "line", "color": "#111111", "strokeWidth": 1.7}},
        {"data": {"name": "ticks"}, "mark": {"type": "text", "font": "Liberation Serif", "fontSize": 21, "color": "#111111", "baseline": "alphabetic", "dy": 17}, "encoding": {"text": {"field": "lab"}}},
        {"data": {"name": "sub"}, "mark": {"type": "text", "font": "Liberation Sans", "fontSize": 16, "color": "#111111", "baseline": "alphabetic", "dy": 21}, "encoding": {"text": {"field": "lab"}}}
      ]
    }
  ]
}
